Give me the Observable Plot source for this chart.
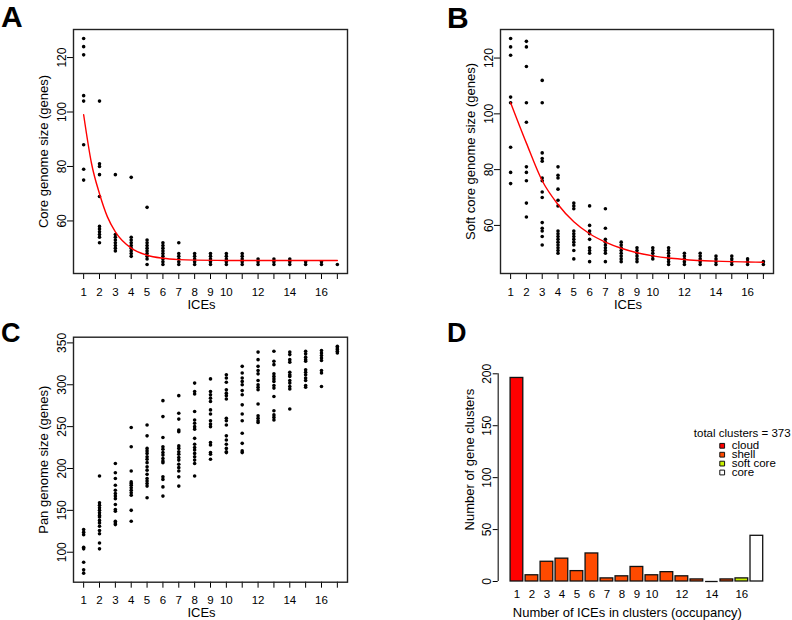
<!DOCTYPE html>
<html>
<head>
<meta charset="utf-8">
<script src="https://cdn.jsdelivr.net/npm/d3@7"></script>
<script src="https://cdn.jsdelivr.net/npm/@observablehq/plot@0.6"></script>
<style>
  body { margin: 0; background: #fff; }
  #wrap { position: relative; width: 792px; height: 620px; font-family: "Liberation Sans", Arial, Helvetica, sans-serif; }
  .panel { position: absolute; width: 396px; height: 310px; }
  .letter { position: absolute; font-family: "Liberation Sans", Arial, sans-serif; font-weight: bold; color: #000; }
</style>
</head>
<body>
<div id="wrap">
  <div class="panel" id="pA" style="left:0;top:0"></div>
  <div class="panel" id="pB" style="left:396px;top:0"></div>
  <div class="panel" id="pC" style="left:0;top:310px"></div>
  <div class="panel" id="pD" style="left:396px;top:310px"></div>
  <div class="letter" style="left:1px;top:2px;font-size:30px;line-height:30px">A</div>
  <div class="letter" style="left:447px;top:3px;font-size:30px;line-height:30px">B</div>
  <div class="letter" style="left:1px;top:320px;font-size:27px;line-height:27px">C</div>
  <div class="letter" style="left:447px;top:320px;font-size:27px;line-height:27px">D</div>
</div>
<script>
// ---- data ----
const iceCounts = [1,2,3,4,5,6,7,8,9,10,11,12,13,14,15,16,17];
const xLabelled = [1,2,3,4,5,6,7,8,9,10,12,14,16];

const coreSizes = [
  [127,124,121,106,104,88,79,75],
  [104,81,80,77,69,58,57,56,55,54,52],
  [77,55,54,53,52,51,50,49],
  [76,54,53,52,51,50,49,48,47],
  [65,53,52,51,50,49,48,47,46,44],
  [52,51,50,49,48,47,46,45,44],
  [52,48,47,46,45,44],
  [48,47,46,45,44],
  [48,47,46,45,44],
  [48,47,46,45,44],
  [48,47,46,45,44],
  [46,45,44],
  [46,45,44],
  [46,45,44],
  [45,44],
  [45,44],
  [44]
];
const coreFitX = [1,1.5,2,2.5,3,4,5,6,7,8,10,12,17];
const coreFitY = [99,81,70,61.5,56,50,47.4,46.3,45.8,45.6,45.5,45.5,45.5];

const softCoreSizes = [
  [127,124,121,106,104,88,79,75],
  [126,124,117,104,97,81,79,76,68,63],
  [112,104,86,84,83,77,76,72,70,61,59,58,56,53],
  [81,78,77,73,69,67,58,57,56,55,54,53,52,51,50],
  [68,67,66,58,57,56,55,54,53,51,48],
  [67,60,58,57,55,52,51,50,47],
  [66,59,55,54,53,52,51,50,47],
  [54,53,52,51,50,49,48,47],
  [52,51,50,49,48,47],
  [52,51,50,49,48],
  [52,51,50,49,48,47,46],
  [50,49,48,47,46],
  [50,49,48,47,46],
  [49,48,47,46],
  [49,48,47,46],
  [48,47,46],
  [47,46]
];
const softFitX = [1,2,3,4,5,6,7,8,9,10,11,12,13,14,15,16,17];
const softFitY = [104,89.5,76,67.5,61.3,57,54,51.8,50.2,49.1,48.3,47.8,47.4,47.2,47,46.9,46.8];

const panSizes = [
  [127,124,121,106,104,88,79,75],
  [191,159,156,153,150,147,144,142,138,135,131,126,122,111,104],
  [206,195,188,180,174,170,167,164,157,151,149,137,135,133],
  [249,226,197,184,182,180,177,174,171,168,150,137],
  [252,239,224,221,218,214,211,207,202,198,193,188,185,182,179,165],
  [281,262,237,226,223,219,216,212,209,207,190,187,178,167],
  [287,266,259,246,244,227,224,220,217,213,210,205,201,197,190,179],
  [302,292,289,268,258,254,250,247,236,229,225,222,218,214,210,206,191],
  [307,292,288,284,280,270,265,257,253,250,231,228,219,217,211],
  [312,308,303,294,290,287,283,260,257,252,239,234,229,224,220,219],
  [322,314,308,304,300,293,288,276,265,257,242,230,221,219],
  [339,330,322,317,313,305,300,297,294,277,263,260,257,255],
  [340,328,324,313,310,307,304,299,296,286,269,264,261,258],
  [339,336,330,327,315,312,310,305,302,298,295,271],
  [340,337,333,330,328,318,315,312,308,305,299,297],
  [341,338,335,332,329,317,314,298],
  [346,344,342,340,338]
];

const occupancy = [1,2,3,4,5,6,7,8,9,10,11,12,13,14,15,16,17];
const clusterCounts = [196,6,19,22,10,27,3,5,14,6,9,5,2,0,2,3,44];
const clusterClass = ["cloud","shell","shell","shell","shell","shell","shell","shell","shell","shell","shell","shell","shell","shell","shell","soft core","core"];
const classNames = ["cloud","shell","soft core","core"];
const classColors = ["#FF0000","#FF4A00","#C8F000","#FFFFFF"];
const totalLabel = "total clusters = 373";

// ---- helpers ----
const FONT = '"Liberation Sans", Arial, Helvetica, sans-serif';
const baseStyle = {fontFamily: FONT, fontSize: "12px", color: "black", background: "transparent", overflow: "visible"};

function flatten(sizes) {
  return sizes.flatMap((vals, i) => vals.map(v => ({k: iceCounts[i], v})));
}

function scatterPanel(o) {
  const pts = flatten(o.sizes);
  const marks = [
    Plot.axisX({ticks: iceCounts, tickFormat: d => xLabelled.includes(d) ? String(d) : "", tickSize: 6, tickPadding: 8, label: null, fontSize: 11.5}),
    Plot.axisY({ticks: o.yTicks, tickSize: 6, tickPadding: 2, tickRotate: -90, label: null, fontSize: 12}),
    Plot.dot(pts, {x: "k", y: "v", r: 1.8, fill: "black", stroke: null}),
    Plot.text([o.ylabel], {frameAnchor: "left", dx: -30, dy: 0, rotate: -90, textAnchor: "middle", lineAnchor: "middle", fontSize: 13}),
    Plot.text(["ICEs"], {frameAnchor: "bottom", dx: -9, dy: 31, textAnchor: "middle", lineAnchor: "middle", fontSize: 13}),
    Plot.frame({stroke: "#222", strokeWidth: 1.4})
  ];
  if (o.fitX) {
    marks.push(Plot.line(o.fitX.map((x, i) => ({x, y: o.fitY[i]})), {x: "x", y: "y", stroke: "#FF0000", strokeWidth: 1.4, curve: "monotone-x"}));
  }
  return Plot.plot({
    width: 396, height: 310,
    marginLeft: o.ml, marginRight: o.mr, marginTop: o.mt, marginBottom: o.mb,
    x: {domain: [0.36, 17.64]},
    y: {domain: o.yDomain},
    marks,
    style: baseStyle
  });
}

document.getElementById("pA").append(scatterPanel({
  sizes: coreSizes, fitX: coreFitX, fitY: coreFitY,
  yDomain: [40.7, 130.3], yTicks: [60, 80, 100, 120],
  ylabel: "Core genome size (genes)",
  ml: 73, mr: 49, mt: 29, mb: 37
}));

document.getElementById("pB").append(scatterPanel({
  sizes: softCoreSizes, fitX: softFitX, fitY: softFitY,
  yDomain: [42.76, 130.24], yTicks: [60, 80, 100, 120],
  ylabel: "Soft core genome size (genes)",
  ml: 104, mr: 19, mt: 29, mb: 37
}));

document.getElementById("pC").append(scatterPanel({
  sizes: panSizes,
  yDomain: [64.2, 356.8], yTicks: [100, 150, 200, 250, 300, 350],
  ylabel: "Pan genome size (genes)",
  ml: 73, mr: 49, mt: 26.7, mb: 38.3
}));

// ---- panel D ----
const dData = occupancy.map((k, i) => ({k, n: clusterCounts[i], cls: clusterClass[i]}));
const dXDomain = [-0.25, 18];
const dMarks = [
  Plot.rectY(dData, {x1: d => d.k - 0.5, x2: d => d.k + 0.5, y: "n", insetLeft: 1.15, insetRight: 1.15, fill: "cls", stroke: "#111", strokeWidth: 1.3}),
  Plot.ruleY(dData.filter(d => d.n === 0), {x1: d => d.k - 0.42, x2: d => d.k + 0.42, y: "n", stroke: "#111", strokeWidth: 1.3}),
  Plot.ruleX([dXDomain[0]], {y1: 0, y2: 200, stroke: "#222", strokeWidth: 1.2}),
  Plot.axisY({ticks: [0, 50, 100, 150, 200], tickSize: 5, tickPadding: 2, tickRotate: -90, label: null, fontSize: 12}),
  Plot.axisX({ticks: occupancy, tickFormat: d => xLabelled.includes(d) ? String(d) : "", tickSize: 0, tickPadding: 8, label: null, fontSize: 11.5}),
  Plot.text(["Number of gene clusters"], {frameAnchor: "left", dx: -28.7, dy: -18, rotate: -90, textAnchor: "middle", lineAnchor: "middle", fontSize: 13}),
  Plot.text(["Number of ICEs in clusters (occupancy)"], {frameAnchor: "bottom", dx: -7.7, dy: 31.5, textAnchor: "middle", lineAnchor: "middle", fontSize: 13}),
  Plot.text([totalLabel], {frameAnchor: "top-left", dx: 195.6, dy: 59.2, textAnchor: "start", lineAnchor: "middle", fontSize: 11.5})
];
classNames.forEach((name, i) => {
  dMarks.push(Plot.dot([name], {frameAnchor: "top-left", dx: 224, dy: 72 + i * 8.9, symbol: "square", r: 2.7, fill: classColors[i], stroke: "#111", strokeWidth: 1}));
  dMarks.push(Plot.text([name], {frameAnchor: "top-left", dx: 233.5, dy: 71.5 + i * 8.9, textAnchor: "start", lineAnchor: "middle", fontSize: 11.5}));
});

document.getElementById("pD").append(Plot.plot({
  width: 396, height: 310,
  marginLeft: 101.7, marginRight: 20.65, marginTop: 63.3, marginBottom: 39,
  x: {domain: dXDomain},
  y: {domain: [0, 200]},
  color: {domain: classNames, range: classColors},
  marks: dMarks,
  style: baseStyle
}));
</script>
</body>
</html>
